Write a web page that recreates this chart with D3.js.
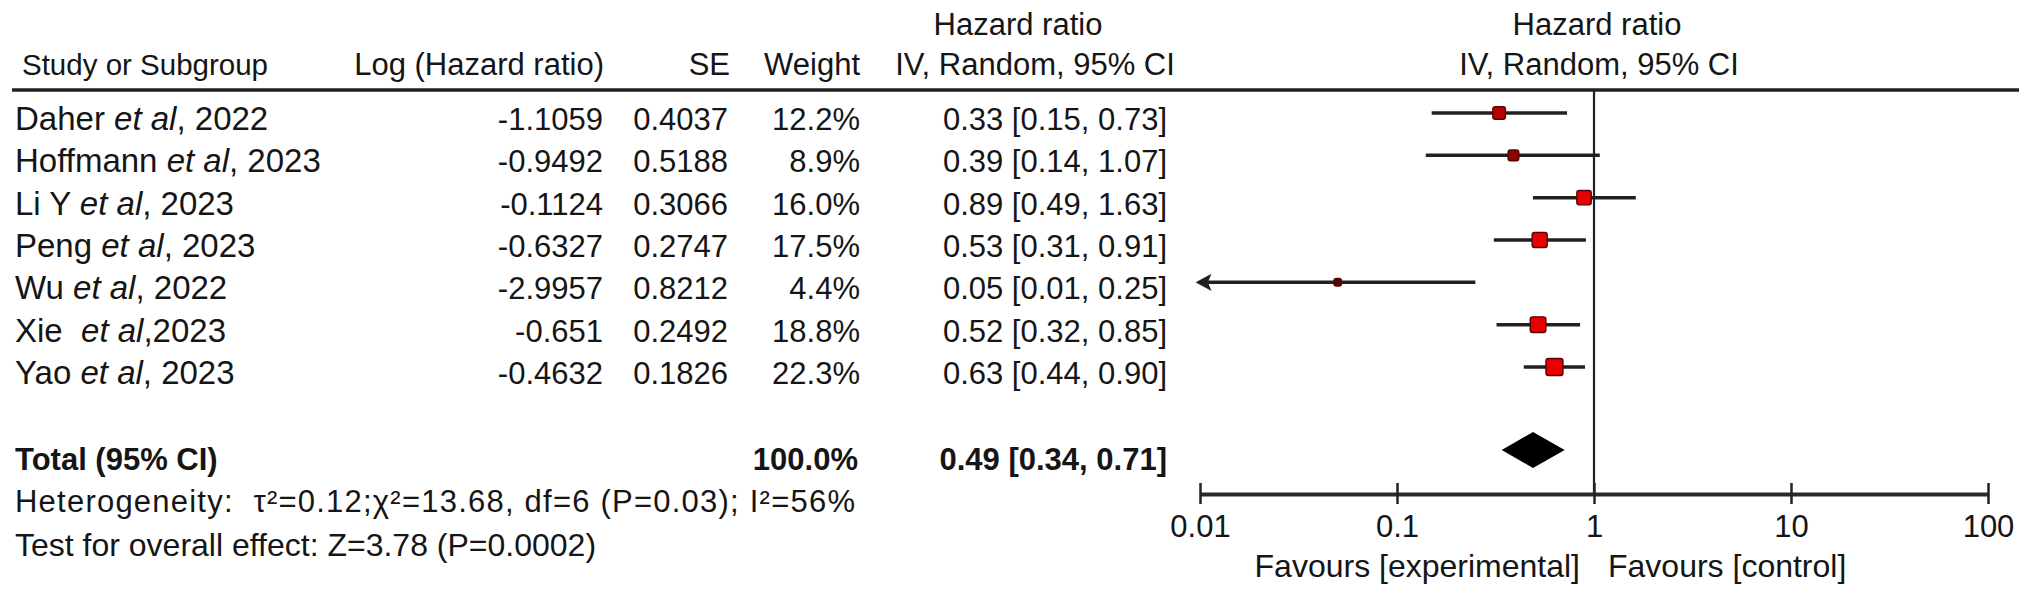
<!DOCTYPE html>
<html>
<head>
<meta charset="utf-8">
<script src="https://cdn.jsdelivr.net/npm/d3@7"></script>
<style>
  html, body { margin: 0; padding: 0; background: #fff; }
  svg text { font-family: "Liberation Sans", Arial, sans-serif; fill: #151515; white-space: pre; }
</style>
</head>
<body>
<svg id="chart" width="2032" height="597"></svg>
<script>
// study rows
const authors = ["Daher", "Hoffmann", "Li Y", "Peng", "Wu", "Xie ", "Yao"];
const years = [", 2022", ", 2023", ", 2023", ", 2023", ", 2022", ",2023", ", 2023"];
const logHR = ["-1.1059", "-0.9492", "-0.1124", "-0.6327", "-2.9957", "-0.651", "-0.4632"];
const se = ["0.4037", "0.5188", "0.3066", "0.2747", "0.8212", "0.2492", "0.1826"];
const weights = [12.2, 8.9, 16.0, 17.5, 4.4, 18.8, 22.3];
const hr = [0.33, 0.39, 0.89, 0.53, 0.05, 0.52, 0.63];
const lower = [0.15, 0.14, 0.49, 0.31, 0.01, 0.32, 0.44];
const upper = [0.73, 1.07, 1.63, 0.91, 0.25, 0.85, 0.90];

// pooled estimate
const totalHR = 0.49, totalLower = 0.34, totalUpper = 0.71;
const totalWeight = "100.0%";

const tickVals = [0.01, 0.1, 1, 10, 100];
const tickLabels = ["0.01", "0.1", "1", "10", "100"];

const heterogeneity = "Heterogeneity:  τ²=0.12;χ²=13.68, df=6 (P=0.03); I²=56%";
const overall = "Test for overall effect: Z=3.78 (P=0.0002)";

const rows = authors.map((a, i) => ({
  author: a, year: years[i], logHR: logHR[i], se: se[i], w: weights[i],
  hr: hr[i], lo: lower[i], hi: upper[i]
}));

const fs = 31;
const svg = d3.select("#chart");

const x = d3.scaleLog().domain([0.01, 100]).range([1200, 1988]);
const y = d3.scaleLinear().domain([0, rows.length - 1]).range([113, 367]);
const size = d3.scaleSqrt().domain([0, 22.3]).range([0, 17]);
const shade = d3.scaleLinear().domain([4.4, 16]).range(["#4a0808", "#e80000"]).clamp(true);

const axisY = 494;
const totalY = 450;
const fmt = v => v.toFixed(2);

function txt(xp, yp, s, anchor, weight, size) {
  return svg.append("text")
    .attr("x", xp).attr("y", yp)
    .attr("text-anchor", anchor || "start")
    .style("font-size", (size || fs) + "px")
    .style("font-weight", weight || "normal")
    .text(s);
}

// headers
txt(1018, 35, "Hazard ratio", "middle");
txt(1597, 35, "Hazard ratio", "middle");
txt(22, 75, "Study or Subgroup", "start", "normal", 29.5);
txt(604, 75, "Log (Hazard ratio)", "end");
txt(730, 75, "SE", "end");
txt(860, 75, "Weight", "end");
txt(1035, 75, "IV, Random, 95% CI", "middle");
txt(1599, 75, "IV, Random, 95% CI", "middle");

svg.append("line")
  .attr("x1", 12).attr("x2", 2019)
  .attr("y1", 90).attr("y2", 90)
  .attr("stroke", "#222").attr("stroke-width", 3.5);

// study text columns
const rowG = svg.selectAll(".row").data(rows).enter().append("g").attr("class", "row");

const nameT = rowG.append("text")
  .attr("x", 15).attr("y", (d, i) => y(i) + 17)
  .style("font-size", "33px");
nameT.append("tspan").text(d => d.author + " ");
nameT.append("tspan").style("font-style", "italic").text("et al");
nameT.append("tspan").text(d => d.year);

rowG.append("text").attr("x", 603).attr("y", (d, i) => y(i) + 17)
  .attr("text-anchor", "end").style("font-size", fs + "px").text(d => d.logHR);
rowG.append("text").attr("x", 728).attr("y", (d, i) => y(i) + 17)
  .attr("text-anchor", "end").style("font-size", fs + "px").text(d => d.se);
rowG.append("text").attr("x", 860).attr("y", (d, i) => y(i) + 17)
  .attr("text-anchor", "end").style("font-size", fs + "px").text(d => d.w.toFixed(1) + "%");
rowG.append("text").attr("x", 1167).attr("y", (d, i) => y(i) + 17)
  .attr("text-anchor", "end").style("font-size", fs + "px")
  .text(d => `${fmt(d.hr)} [${fmt(d.lo)}, ${fmt(d.hi)}]`);

// total row
txt(15, 470, "Total (95% CI)", "start", "bold");
txt(858, 470, totalWeight, "end", "bold");
txt(1167, 470, `${fmt(totalHR)} [${fmt(totalLower)}, ${fmt(totalUpper)}]`, "end", "bold");
txt(15, 512, heterogeneity)
  .attr("textLength", 840).attr("lengthAdjust", "spacing");
txt(15, 556, overall, "start", "normal", 32);

// null line
svg.append("line")
  .attr("x1", x(1)).attr("x2", x(1))
  .attr("y1", 91).attr("y2", axisY)
  .attr("stroke", "#222").attr("stroke-width", 2.2);

// CI lines
const xmin = x.domain()[0];
rowG.append("line")
  .attr("x1", d => d.lo <= xmin ? x(xmin) + 4 : x(d.lo))
  .attr("x2", d => x(d.hi))
  .attr("y1", (d, i) => y(i)).attr("y2", (d, i) => y(i))
  .attr("stroke", "#222").attr("stroke-width", 3.5);

// arrow heads where CI runs off the scale
rowG.filter(d => d.lo <= xmin).append("path")
  .attr("d", d => {
    const yy = y(rows.indexOf(d));
    const x0 = x(xmin) - 3;
    return `M${x0},${yy} L${x0 + 13},${yy - 7} L${x0 + 10},${yy} L${x0 + 13},${yy + 7} Z`;
  })
  .attr("fill", "#222").attr("stroke", "#222").attr("stroke-width", 1.5);

// squares
rowG.append("rect")
  .attr("x", d => x(d.hr) - size(d.w) / 2)
  .attr("y", (d, i) => y(i) - size(d.w) / 2)
  .attr("width", d => size(d.w))
  .attr("height", d => size(d.w))
  .attr("rx", 2.5)
  .attr("fill", d => shade(d.w))
  .attr("stroke", "#5a0000").attr("stroke-width", 1.4);

// diamond
svg.append("path")
  .attr("d", `M${x(totalLower)},${totalY} L${x(totalHR)},${totalY - 18} L${x(totalUpper)},${totalY} L${x(totalHR)},${totalY + 18} Z`)
  .attr("fill", "#000");

// axis
const axis = d3.axisBottom(x)
  .tickValues(tickVals)
  .tickFormat((d, i) => tickLabels[i])
  .tickSizeInner(0)
  .tickSizeOuter(0)
  .tickPadding(21);

const axG = svg.append("g")
  .attr("transform", `translate(0,${axisY})`)
  .call(axis);
axG.select(".domain").attr("stroke", "#2a2a2a").attr("stroke-width", 4);
axG.selectAll(".tick line").attr("y1", -11).attr("y2", 10)
  .attr("stroke", "#222").attr("stroke-width", 2.5);
axG.selectAll(".tick text")
  .style("font-size", fs + "px")
  .style("font-family", '"Liberation Sans", Arial, sans-serif')
  .attr("fill", "#151515");

txt(x(1) - 14, 577, "Favours [experimental]", "end", "normal", 32);
txt(x(1) + 14, 577, "Favours [control]", "start", "normal", 32);
</script>
</body>
</html>
